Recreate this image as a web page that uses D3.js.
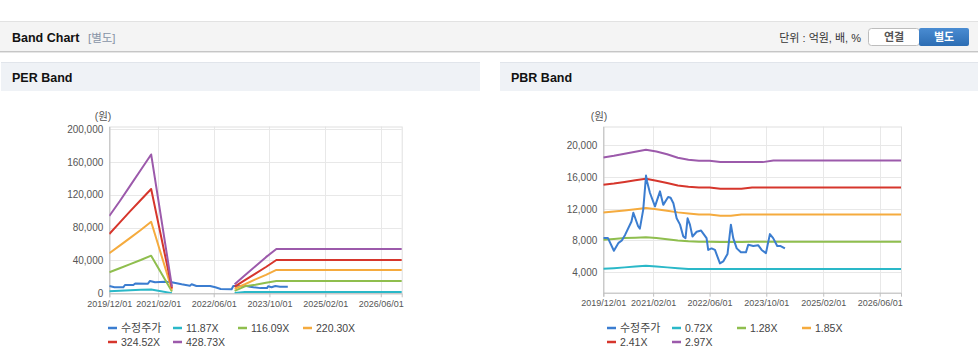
<!DOCTYPE html>
<html><head><meta charset="utf-8">
<script src="https://cdn.jsdelivr.net/npm/d3@7"></script>
<style>
body{margin:0;background:#fff;}
svg{display:block;font-family:"Liberation Sans",Arial,"Noto Sans CJK KR",sans-serif;}
</style></head><body>
<svg id="c" width="978" height="361"></svg>
<script>
// ---------- DATA ----------
const xTickLabels = ["2019/12/01","2021/02/01","2022/06/01","2023/10/01","2025/02/01","2026/06/01"];
const xDomainLabels = ["2019/12/01","2026/12/01"];
const perYTicks = [0,40000,80000,120000,160000,200000];
const pbrYTicks = [4000,8000,12000,16000,20000];
const perLegend = ["수정주가","11.87X","116.09X","220.30X","324.52X","428.73X"];
const pbrLegend = ["수정주가","0.72X","1.28X","1.85X","2.41X","2.97X"];

// PER chart: adjusted price
const perPriceDates = ["2019/12/01","2020/01/15","2020/04/01","2020/04/16","2020/06/28","2020/07/15","2020/11/01","2020/11/21","2021/01/04","2021/04/01","2021/05/29","2021/07/12","2021/08/25","2021/11/05","2021/11/20","2022/01/01","2022/05/01","2022/06/15","2022/08/01","2022/11/05","2022/11/19","2023/03/15","2023/04/15","2023/05/15","2023/07/15","2023/09/10","2023/09/20","2023/10/20","2023/11/22","2024/01/01","2024/03/10"];
const perPrice = [8900,7300,7300,10100,10100,12000,11500,15000,13400,14000,13400,12200,11000,9300,11000,8900,8900,7300,5200,5000,8900,8900,8000,7300,6300,6300,8500,7300,8900,8000,8000];
// PER bands (null = no value)
const perBandDates = ["2019/12/01","2020/03/01","2020/06/01","2020/09/01","2020/12/01","2021/06/01","2022/06/01","2022/12/01","2023/03/01","2023/06/01","2023/09/01","2023/12/01","2026/12/01"];
const per1187 = [2600,3100,3600,4200,4700,200,null,300,1500,1500,1500,1500,1500];
const per11609 = [25600,30500,35500,40500,45800,2200,null,2900,8500,10500,12800,15000,15000];
const per22030 = [48700,58000,67500,77000,87000,4200,null,5500,11000,17000,22500,28400,28400];
const per32452 = [72200,86000,100000,113500,127000,6000,null,8100,16000,24000,32000,40500,40500];
const per42873 = [94100,112000,131000,150000,169000,8000,null,11000,22000,33000,44000,54000,54000];

// PBR chart: adjusted price
const pbrPriceDates = ["2019/12/01","2020/01/10","2020/03/01","2020/04/10","2020/05/08","2020/06/05","2020/07/30","2020/08/15","2020/09/25","2020/10/10","2020/11/08","2020/12/02","2020/12/12","2021/01/05","2021/02/17","2021/04/01","2021/04/29","2021/06/10","2021/07/01","2021/07/25","2021/08/22","2021/09/20","2021/10/18","2021/11/06","2021/11/24","2021/12/14","2022/01/05","2022/02/10","2022/03/20","2022/05/06","2022/05/20","2022/06/18","2022/07/17","2022/08/29","2022/09/26","2022/11/02","2022/12/01","2022/12/21","2023/01/20","2023/02/25","2023/04/09","2023/04/29","2023/06/11","2023/07/23","2023/08/22","2023/09/28","2023/11/01","2023/11/29","2024/01/03","2024/02/01","2024/03/09"];
const pbrPrice = [8300,8300,6700,7700,8000,8700,10400,11500,9800,9500,11900,16200,15400,14000,12300,14200,12500,13500,13400,12700,10800,10000,8500,8300,10800,10000,8500,9100,9250,8300,6800,7000,6800,5100,5350,6300,10000,8300,7000,6500,6500,7450,7300,7400,6800,6400,8800,8300,7300,7300,7000];
// PBR bands
const pbrBandDates = ["2019/12/01","2020/03/01","2020/06/01","2020/09/01","2020/12/01","2021/03/01","2021/06/01","2021/09/01","2021/12/01","2022/03/01","2022/06/01","2022/09/01","2022/12/01","2023/03/01","2023/06/01","2023/09/01","2023/12/01","2026/12/01"];
const pbr072 = [4420,4500,4600,4700,4800,4700,4600,4500,4400,4380,4380,4380,4380,4380,4380,4380,4380,4380];
const pbr128 = [8080,8200,8300,8350,8420,8300,8150,8000,7900,7850,7850,7800,7800,7800,7850,7850,7850,7850];
const pbr185 = [11530,11650,11800,11950,12090,11950,11750,11550,11400,11280,11280,11115,11115,11280,11280,11280,11280,11280];
const pbr241 = [15040,15200,15400,15600,15790,15550,15250,14950,14780,14700,14700,14530,14530,14530,14700,14700,14700,14700];
const pbr297 = [18490,18700,18950,19200,19460,19250,18900,18450,18200,18070,18070,17900,17900,17900,17900,17900,18110,18110];

const colors = ["#3b7dd0","#2ab8c8","#8fbe4e","#f5ab3e","#d6362c","#9c5aab"];

// ---------- DRAW ----------
const parse = d3.timeParse("%Y/%m/%d");
const svg = d3.select("#c");

// top header bar
svg.append("rect").attr("x",0).attr("y",21).attr("width",978).attr("height",31).attr("fill","#f4f4f4");
svg.append("line").attr("x1",0).attr("x2",978).attr("y1",21.5).attr("y2",21.5).attr("stroke","#e2e2e2");
svg.append("line").attr("x1",0).attr("x2",978).attr("y1",51.5).attr("y2",51.5).attr("stroke","#c6c6c6");
svg.append("line").attr("x1",0).attr("x2",978).attr("y1",52.5).attr("y2",52.5).attr("stroke","#e6e6e6");
svg.append("text").attr("x",12).attr("y",42).attr("font-size",12.5).attr("font-weight","bold").attr("fill","#111").text("Band Chart");
svg.append("text").attr("x",88).attr("y",42).attr("font-size",11.5).attr("fill","#8793a6").text("[별도]");
svg.append("text").attr("x",861).attr("y",42).attr("text-anchor","end").attr("font-size",11).attr("fill","#333").text("단위 : 억원, 배, %");
const defs = svg.append("defs");
const gr = defs.append("linearGradient").attr("id","btn").attr("x1",0).attr("x2",0).attr("y1",0).attr("y2",1);
gr.append("stop").attr("offset","0%").attr("stop-color","#4a8cd2");
gr.append("stop").attr("offset","100%").attr("stop-color","#2c6db3");
svg.append("rect").attr("x",868.5).attr("y",28.5).attr("width",51).attr("height",17).attr("rx",3).attr("fill","#fff").attr("stroke","#bdbdbd");
svg.append("text").attr("x",894).attr("y",41).attr("text-anchor","middle").attr("font-size",11).attr("font-weight","bold").attr("fill","#555").text("연결");
svg.append("rect").attr("x",919).attr("y",28).attr("width",50).attr("height",18).attr("rx",2).attr("fill","url(#btn)");
svg.append("text").attr("x",944).attr("y",41).attr("text-anchor","middle").attr("font-size",11).attr("font-weight","bold").attr("fill","#fff").text("별도");

// panel headers
function panelHeader(x, w, title){
  svg.append("rect").attr("x",x).attr("y",62).attr("width",w).attr("height",29).attr("fill","#eff2f6");
  svg.append("line").attr("x1",x).attr("x2",x+w).attr("y1",62.5).attr("y2",62.5).attr("stroke","#e1e5eb");
  svg.append("text").attr("x",x+11).attr("y",82).attr("font-size",12.5).attr("font-weight","bold").attr("fill","#111").text(title);
}
panelHeader(1,479,"PER Band");
panelHeader(500,478,"PBR Band");

function drawChart(cfg){
  const g = svg.append("g");
  const x = d3.scaleTime().domain(xDomainLabels.map(parse)).range([cfg.left, cfg.right]);
  const y = d3.scaleLinear().domain(cfg.yDomain).range([cfg.bottom, cfg.top]);
  const xt = xTickLabels.map(parse);
  // grid
  g.selectAll(".hg").data(cfg.yTicks).enter().append("line")
    .attr("x1",cfg.left).attr("x2",cfg.right)
    .attr("y1",d=>Math.round(y(d))+0.5).attr("y2",d=>Math.round(y(d))+0.5)
    .attr("stroke","#e8e8e8");
  g.selectAll(".vg").data(xt).enter().append("line")
    .attr("y1",cfg.top).attr("y2",cfg.bottom)
    .attr("x1",d=>Math.round(x(d))+0.5).attr("x2",d=>Math.round(x(d))+0.5)
    .attr("stroke","#e8e8e8");
  // frame
  g.append("rect").attr("x",cfg.left+0.5).attr("y",cfg.top+0.5).attr("width",cfg.right-cfg.left).attr("height",cfg.bottom-cfg.top)
    .attr("fill","none").attr("stroke","#e0e0e0");
  // axes
  const ax = g.append("g").attr("transform",`translate(0,${cfg.bottom})`)
    .call(d3.axisBottom(x).tickValues(xt).tickSize(4).tickPadding(3).tickFormat((d,i)=>xTickLabels[i]));
  ax.select(".domain").attr("stroke","#c0c0c0");
  ax.selectAll(".tick line").attr("stroke","#c0c0c0");
  ax.selectAll("text").attr("font-size",9).attr("fill","#555").attr("font-family","Liberation Sans, Arial, sans-serif");
  const ay = g.append("g").attr("transform",`translate(${cfg.left},0)`)
    .call(d3.axisLeft(y).tickValues(cfg.yTicks).tickSize(0).tickPadding(6).tickFormat(d3.format(",")));
  ay.select(".domain").attr("stroke","#c0c0c0");
  ay.selectAll("text").attr("font-size",10).attr("fill","#555").attr("font-family","Liberation Sans, Arial, sans-serif");
  g.append("text").attr("x",cfg.unitX).attr("y",120).attr("text-anchor","middle").attr("font-size",10.5).attr("fill","#555").text("(원)");
  // lines
  const clip = "clip"+cfg.id;
  defs.append("clipPath").attr("id",clip).append("rect").attr("x",cfg.left).attr("y",cfg.top).attr("width",cfg.right-cfg.left+1).attr("height",cfg.bottom-cfg.top);
  const line = d3.line().defined(d=>d.v!=null).x(d=>x(d.d)).y(d=>y(d.v));
  const lg = g.append("g").attr("clip-path",`url(#${clip})`);
  // bands first, price last? price drawn on top of bands for PBR, bands over price for PER
  cfg.series.forEach((s,i)=>{
    const data = s.dates.map((d,j)=>({d:parse(d), v:s.values[j]}));
    lg.append("path").datum(data).attr("d",line).attr("fill","none")
      .attr("stroke",colors[s.c]).attr("stroke-width",2).attr("stroke-linejoin","round");
  });
  // legend
  cfg.legend.forEach((name,i)=>{
    const lx = cfg.legX + (i%4)*65, ly = 328 + Math.floor(i/4)*14;
    g.append("line").attr("x1",lx).attr("x2",lx+9).attr("y1",ly).attr("y2",ly).attr("stroke",colors[i]).attr("stroke-width",2.5);
    g.append("text").attr("x",lx+13).attr("y",ly+4).attr("font-size",i===0?11:10.5).attr("fill","#444")
      .attr("font-family", i===0 ? "Noto Sans CJK KR, sans-serif" : "Liberation Sans, Arial, sans-serif").text(name);
  });
}

drawChart({id:"per", left:109.3, right:401.7, top:126.5, bottom:293.3, yDomain:[0,203000], yTicks:perYTicks, unitX:103, legX:108,
  legend:perLegend,
  series:[
    {dates:perPriceDates, values:perPrice, c:0},
    {dates:perBandDates, values:per1187, c:1},
    {dates:perBandDates, values:per11609, c:2},
    {dates:perBandDates, values:per22030, c:3},
    {dates:perBandDates, values:per32452, c:4},
    {dates:perBandDates, values:per42873, c:5}
  ]});
drawChart({id:"pbr", left:603.3, right:901, top:126.5, bottom:292.7, yDomain:[1400,22400], yTicks:pbrYTicks, unitX:599, legX:607,
  legend:pbrLegend,
  series:[
    {dates:pbrBandDates, values:pbr072, c:1},
    {dates:pbrBandDates, values:pbr128, c:2},
    {dates:pbrBandDates, values:pbr185, c:3},
    {dates:pbrBandDates, values:pbr241, c:4},
    {dates:pbrBandDates, values:pbr297, c:5},
    {dates:pbrPriceDates, values:pbrPrice, c:0}
  ]});
</script></body></html>
